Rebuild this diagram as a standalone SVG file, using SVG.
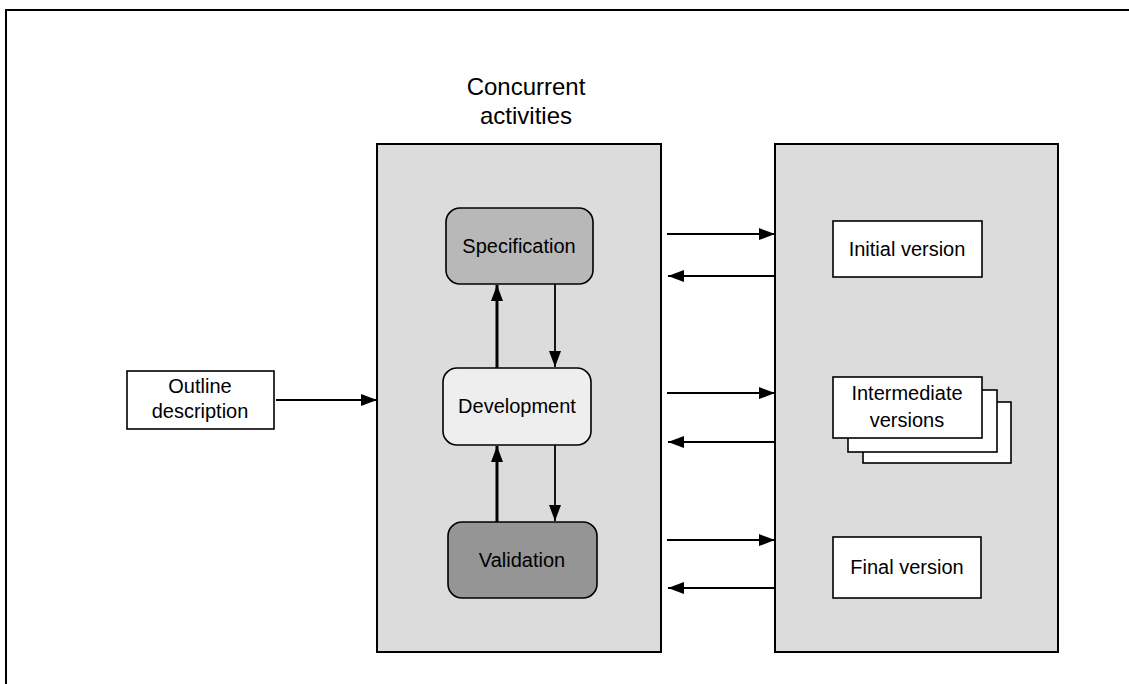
<svg xmlns="http://www.w3.org/2000/svg" width="1129" height="684" viewBox="0 0 1129 684">
<style>
  text { font-family: "Liberation Sans", Arial, sans-serif; fill: #000; text-anchor: middle; }
  .lbl { font-size: 20px; }
  .title { font-size: 24px; }
  .panel { fill: #dcdcdc; stroke: #000; stroke-width: 2; }
  .box { fill: #fff; stroke: #000; stroke-width: 1.6; }
  .conn { stroke: #000; stroke-width: 1.8; fill: none; }
  .thick { stroke: #000; stroke-width: 3; fill: none; }
</style>
<defs>
  <marker id="ah" viewBox="0 0 16 12" refX="16" refY="6" markerWidth="16" markerHeight="12" markerUnits="userSpaceOnUse" orient="auto">
    <path d="M0,0 L16,6 L0,12 Z" fill="#000"/>
  </marker>
</defs>
<rect width="1129" height="684" fill="#fff"/>
<g id="frame">
  <path d="M6,684 L6,10 L1129,10" fill="none" stroke="#000" stroke-width="2"/>
</g>
<g id="title">
  <text class="title" x="526" y="95">Concurrent</text>
  <text class="title" x="526" y="124">activities</text>
</g>
<g id="concurrent-panel">
  <rect class="panel" x="377" y="144" width="284" height="508"/>
</g>
<g id="versions-panel">
  <rect class="panel" x="775" y="144" width="283" height="508"/>
</g>
<g id="outline">
  <rect class="box" x="127" y="371" width="147" height="58"/>
  <text class="lbl" x="200" y="393">Outline</text>
  <text class="lbl" x="200" y="418">description</text>
</g>
<g id="specification">
  <rect x="446" y="208" width="147" height="76" rx="14" fill="#b8b8b8" stroke="#000" stroke-width="1.6"/>
  <text class="lbl" x="519" y="253">Specification</text>
</g>
<g id="development">
  <rect x="443" y="368" width="148" height="77" rx="14" fill="#eeeeee" stroke="#000" stroke-width="1.6"/>
  <text class="lbl" x="517" y="413">Development</text>
</g>
<g id="validation">
  <rect x="448" y="522" width="149" height="76" rx="14" fill="#959595" stroke="#000" stroke-width="1.6"/>
  <text class="lbl" x="522" y="567">Validation</text>
</g>
<g id="initial-version">
  <rect class="box" x="833" y="221" width="149" height="56"/>
  <text class="lbl" x="907" y="256">Initial version</text>
</g>
<g id="intermediate-versions">
  <rect class="box" x="863" y="402" width="148" height="61"/>
  <rect class="box" x="848" y="390" width="149" height="62"/>
  <rect class="box" x="833" y="377" width="149" height="61"/>
  <text class="lbl" x="907" y="400">Intermediate</text>
  <text class="lbl" x="907" y="427">versions</text>
</g>
<g id="final-version">
  <rect class="box" x="833" y="537" width="148" height="61"/>
  <text class="lbl" x="907" y="574">Final version</text>
</g>
<g id="connectors">
  <line class="conn" x1="276" y1="400" x2="377" y2="400" marker-end="url(#ah)"/>
  <line class="thick" x1="497" y1="368" x2="497" y2="285" marker-end="url(#ah)"/>
  <line class="conn" x1="555" y1="284" x2="555" y2="367" marker-end="url(#ah)"/>
  <line class="thick" x1="497" y1="522" x2="497" y2="446" marker-end="url(#ah)"/>
  <line class="conn" x1="555" y1="445" x2="555" y2="521" marker-end="url(#ah)"/>
  <line class="conn" x1="667" y1="234" x2="775" y2="234" marker-end="url(#ah)"/>
  <line class="conn" x1="775" y1="276" x2="668" y2="276" marker-end="url(#ah)"/>
  <line class="conn" x1="667" y1="393" x2="775" y2="393" marker-end="url(#ah)"/>
  <line class="conn" x1="775" y1="442" x2="668" y2="442" marker-end="url(#ah)"/>
  <line class="conn" x1="667" y1="540" x2="775" y2="540" marker-end="url(#ah)"/>
  <line class="conn" x1="775" y1="588" x2="668" y2="588" marker-end="url(#ah)"/>
</g>
</svg>
